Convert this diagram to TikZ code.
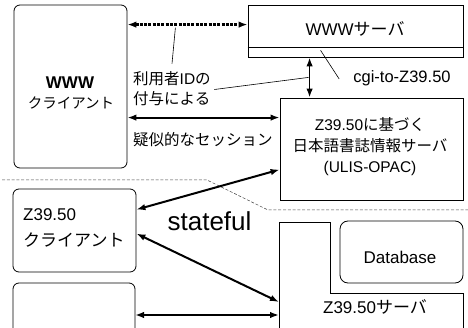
\documentclass[tikz,border=0pt]{standalone}
\usepackage{fontspec}
\setmainfont{Liberation Sans}
\newfontfamily\jfont{Noto Sans CJK JP}
\newcommand\jtx[1]{{\jfont #1}}
\usetikzlibrary{arrows.meta,calc}

\tikzset{
  box/.style={draw, line width=0.8pt, inner sep=0pt},
  rbox/.style={box, rounded corners=6pt},
  lbl/.style={inner sep=0pt, font=\fontsize{15.5}{19}\selectfont},
  big/.style={inner sep=0pt, font=\fontsize{17}{21}\selectfont},
  tip/.tip={Latex[length=9pt,width=6.5pt]},
  dblarrow/.style={line width=2pt, tip-tip},
  dotarrow/.style={line width=2.4pt, dash pattern=on 3pt off 1.3pt, tip-tip},
  leader/.style={line width=0.6pt},
  divider/.style={line width=0.5pt, black!75, dash pattern=on 3pt off 1.8pt},
}

\begin{document}
\begin{tikzpicture}[x=1pt, y=-1pt]
\useasboundingbox (0,0) rectangle (468,328);

% boxes
\node[rbox, minimum width=113pt, minimum height=163pt] (wwwc) at (70.5,86.5) {};
\node[box, minimum width=215pt, minimum height=52pt] (wwws) at (355.5,31) {};
\draw[line width=1.4pt] ($(wwws.south west)+(0,-10)$) -- ($(wwws.south east)+(0,-10)$);
\node[box, minimum width=183pt, minimum height=102pt] (ulis) at (371.5,149) {};
\node[rbox, minimum width=123pt, minimum height=83pt] (zc) at (74.5,230.5) {};
\node[rbox, rounded corners=8pt, minimum width=123pt, minimum height=62pt] (db) at (401.5,252) {};

% second client box, cut off by the lower edge
\coordinate (bb) at (135,283);
\draw[line width=0.8pt, rounded corners=6pt] (13,330) -- (13,283) -- (bb) -- (135,330);

% Z39.50 server outline around the database
\coordinate (srv) at (279,222);
\draw[line width=0.8pt] (279,330) -- (srv) -- (330,222) -- (330,293) -- (463,293) -- (463,330);

% boundary between the WWW side and the Z39.50 side
\draw[divider] (2,180) -- (207,180) -- (268,210) -- (468,210);

% texts
\node[inner sep=0pt, font=\fontsize{17}{20}\selectfont\bfseries] (wwwt) at (70,83) {WWW};
\node[inner sep=0pt, font=\fontsize{14.5}{17}\selectfont] (wwwct) at (71,103) {\jtx{クライアント}};
\node[big] (wwwst) at (355,29) {WWW\jtx{サーバ}};
\node[inner sep=0pt, font=\fontsize{16.5}{19}\selectfont] (cgi) at (402,78) {cgi-to-Z39.50};
\node[lbl, anchor=west] (id1) at (133,79) {\jtx{利用者}ID\jtx{の}};
\node[lbl, anchor=west] (id2) at (133,98.5) {\jtx{付与による}};
\node[lbl, anchor=west] (sess) at (133,140) {\jtx{疑似的なセッション}};
\node[lbl, align=center, font=\fontsize{15.5}{21}\selectfont] (ulist) at (370,147)
  {Z39.50\jtx{に基づく}\\\jtx{日本語書誌情報サーバ}\\(ULIS-OPAC)};
\node[big, anchor=west] (zct1) at (23,215) {Z39.50};
\node[big, anchor=west] (zct2) at (23,240) {\jtx{クライアント}};
\node[inner sep=0pt, font=\fontsize{26}{30}\selectfont, anchor=base] (state) at (209.5,231) {stateful};
\node[big] (dbt) at (400,257) {Database};
\node[big] (srvt) at (375,307) {Z39.50\jtx{サーバ}};

% connectors
\draw[dotarrow] ($(wwwc.north east)+(0,20)$) -- ($(wwws.north west)+(0,20)$);
\draw[dblarrow] ($(wwwc.north east)+(0,113)$) -- ($(ulis.north west)+(0,20)$);
\draw[dblarrow, line width=1.7pt] ($(wwws.south west)+(62,0)$) -- ($(ulis.north west)+(30,0)$);
\draw[dblarrow] ($(zc.north east)+(0,21)$) -- ($(ulis.north west)+(0,72)$);
\draw[dblarrow] ($(zc.north east)+(0,45)$) -- ($(srv)+(0,80)$);
\draw[dblarrow] ($(bb)+(0,32)$) -- ($(srv)+(0,93)$);

% leader lines from the labels
\draw[leader] ($(id1.north west)+(39,-8)$) -- ($(wwwc.north east)+(48,23)$);
\draw[leader] ($(id2.east)+(4,-9)$) -- ($(wwws.south west)+(61,20)$);
\draw[leader] ($(cgi.west)+(-14,1)$) -- ($(wwws.south west)+(73,-7)$);
\end{tikzpicture}
\end{document}
